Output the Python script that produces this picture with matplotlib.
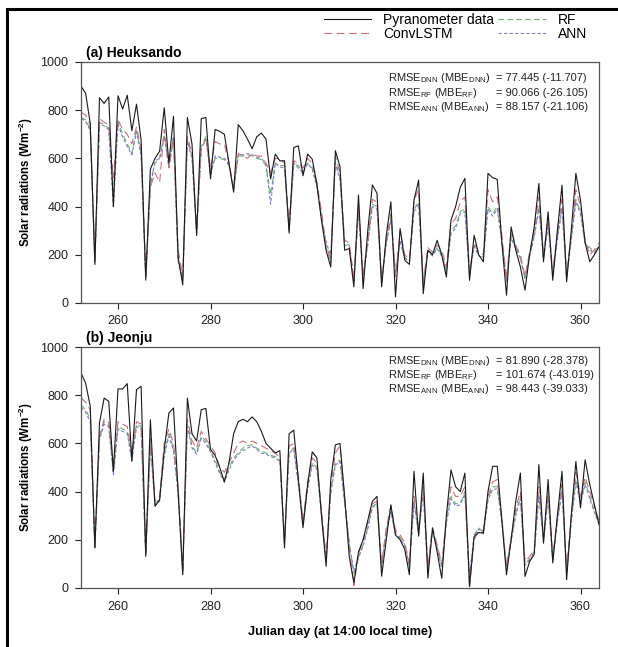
import matplotlib
matplotlib.use("Agg")
import matplotlib.pyplot as plt
from matplotlib.patches import Rectangle

plt.rcParams['font.family'] = ['Liberation Sans', 'DejaVu Sans']
plt.rcParams['mathtext.fontset'] = 'custom'
plt.rcParams['mathtext.rm'] = 'Liberation Sans'
plt.rcParams['mathtext.bf'] = 'Liberation Sans:bold'
plt.rcParams['mathtext.it'] = 'Liberation Sans:italic'

days = list(range(252, 365))

# ---------------- (a) Heuksando ----------------
heuk_obs = [900, 870, 745, 160, 852, 828, 855, 400, 860, 805, 862, 715, 825, 675, 95, 555,
            600, 630, 810, 580, 775, 190, 75, 770, 660, 280, 765, 770, 515, 720, 712, 700,
            580, 460, 740, 715, 680, 640, 690, 705, 680, 515, 618, 590, 590, 290, 645, 652,
            528, 618, 597, 494, 342, 218, 149, 632, 566, 219, 226, 67, 448, 60, 300, 490,
            455, 67, 280, 420, 25, 309, 178, 160, 427, 510, 39, 219, 200, 260, 200, 108,
            344, 400, 480, 517, 94, 281, 200, 171, 538, 520, 513, 250, 32, 316, 220, 150,
            53, 200, 316, 496, 171, 378, 94, 300, 489, 88, 300, 538, 427, 250, 171, 200, 233]
heuk_conv = [790, 780, 740, 180, 765, 750, 740, 520, 760, 720, 700, 660, 730, 640, 120, 480,
             540, 500, 720, 560, 680, 220, 110, 690, 620, 310, 640, 680, 560, 670, 660, 660,
             580, 480, 620, 610, 600, 620, 610, 610, 580, 540, 600, 600, 580, 330, 590, 580,
             560, 600, 580, 500, 380, 240, 180, 610, 540, 260, 250, 100, 400, 120, 260, 430,
             420, 100, 260, 370, 110, 300, 200, 180, 430, 470, 90, 230, 210, 240, 220, 150,
             330, 350, 420, 440, 130, 250, 210, 200, 470, 420, 440, 280, 100, 300, 240, 200,
             110, 210, 300, 440, 200, 350, 130, 290, 430, 120, 280, 470, 400, 260, 200, 220, 250]
heuk_rf = [770, 760, 720, 175, 750, 740, 725, 450, 755, 700, 660, 620, 720, 620, 110, 500,
           580, 600, 700, 570, 690, 180, 100, 680, 610, 300, 650, 690, 540, 600, 600, 595,
           570, 470, 610, 610, 615, 610, 600, 595, 570, 450, 580, 570, 570, 310, 575, 570,
           540, 580, 560, 490, 360, 230, 170, 590, 520, 250, 240, 95, 390, 110, 250, 410,
           400, 90, 250, 350, 130, 250, 190, 170, 390, 420, 80, 220, 200, 230, 200, 140,
           300, 320, 380, 390, 120, 240, 200, 190, 400, 370, 400, 260, 90, 280, 230, 190,
           100, 200, 280, 400, 190, 330, 120, 270, 400, 110, 270, 430, 380, 250, 230, 210, 240]
heuk_ann = [765, 755, 715, 170, 745, 735, 720, 400, 740, 690, 650, 615, 710, 610, 105, 480,
            590, 600, 690, 565, 690, 170, 95, 670, 600, 290, 640, 680, 530, 610, 605, 600,
            575, 470, 615, 615, 620, 615, 605, 600, 575, 410, 580, 565, 560, 300, 580, 560,
            540, 580, 555, 480, 350, 250, 200, 580, 510, 240, 235, 90, 380, 100, 240, 400,
            390, 85, 245, 345, 120, 260, 185, 175, 380, 410, 75, 215, 195, 225, 195, 130,
            290, 310, 370, 380, 115, 235, 195, 185, 390, 360, 390, 255, 95, 270, 225, 185,
            105, 195, 275, 390, 185, 320, 115, 265, 390, 105, 260, 420, 370, 245, 220, 205, 235]

# ---------------- (b) Jeonju ----------------
jeon_obs = [892, 850, 754, 166, 685, 788, 775, 484, 826, 826, 848, 526, 823, 837, 131, 698,
            339, 366, 574, 726, 747, 400, 55, 788, 640, 610, 740, 745, 575, 550, 500, 440,
            520, 640, 690, 700, 690, 710, 690, 650, 600, 580, 560, 570, 166, 640, 655, 450,
            250, 430, 565, 540, 300, 90, 450, 594, 600, 380, 130, 21, 150, 200, 280, 360,
            380, 49, 200, 345, 220, 200, 160, 55, 484, 215, 477, 41, 249, 150, 40, 300,
            490, 420, 400, 477, 7, 214, 230, 228, 400, 505, 505, 280, 55, 200, 360, 477,
            48, 110, 140, 512, 186, 450, 104, 300, 484, 34, 300, 525, 332, 532, 430, 346, 263]
jeon_conv = [790, 770, 740, 180, 630, 700, 690, 500, 690, 680, 670, 560, 690, 680, 150, 620,
             360, 380, 600, 660, 600, 420, 80, 700, 610, 580, 650, 620, 590, 560, 500, 480,
             520, 560, 600, 610, 600, 610, 600, 590, 580, 570, 560, 540, 200, 590, 600, 460,
             280, 440, 540, 520, 320, 130, 420, 560, 590, 380, 170, 10, 140, 200, 270, 350,
             360, 100, 250, 340, 240, 220, 190, 100, 380, 240, 420, 90, 250, 180, 100, 290,
             420, 380, 380, 420, 0, 200, 240, 240, 380, 440, 450, 290, 90, 210, 330, 400,
             110, 130, 160, 420, 210, 400, 130, 290, 430, 80, 300, 480, 380, 460, 400, 340, 280]
jeon_rf = [760, 740, 700, 170, 620, 690, 680, 480, 670, 660, 650, 540, 680, 670, 140, 600,
           350, 370, 560, 640, 580, 400, 70, 680, 590, 560, 630, 610, 570, 530, 480, 450,
           500, 540, 560, 580, 590, 595, 580, 570, 560, 550, 545, 530, 190, 570, 580, 440,
           270, 420, 520, 500, 310, 120, 400, 520, 530, 360, 190, 60, 130, 180, 250, 340,
           350, 90, 240, 320, 230, 210, 180, 90, 360, 230, 400, 80, 240, 170, 90, 280,
           380, 350, 350, 400, 40, 220, 250, 230, 370, 420, 420, 280, 80, 200, 310, 380,
           100, 120, 150, 390, 200, 380, 120, 280, 410, 70, 280, 450, 360, 440, 380, 320, 270]
jeon_ann = [750, 730, 690, 165, 615, 680, 670, 470, 660, 650, 640, 530, 670, 660, 135, 590,
            345, 360, 550, 630, 570, 390, 65, 670, 580, 555, 620, 600, 565, 520, 475, 440,
            490, 530, 555, 570, 580, 590, 575, 560, 555, 545, 540, 525, 185, 560, 575, 430,
            265, 410, 510, 495, 300, 115, 395, 510, 525, 355, 180, 70, 125, 175, 245, 335,
            345, 85, 235, 315, 225, 205, 175, 85, 350, 225, 390, 75, 235, 165, 85, 270,
            370, 340, 345, 390, 50, 215, 245, 225, 365, 410, 410, 275, 75, 195, 300, 370,
            95, 115, 145, 380, 195, 370, 115, 275, 400, 65, 275, 440, 350, 430, 370, 315, 265]

stats_a = [("DNN", "= 77.445 (-11.707)"),
           ("RF", "= 90.066 (-26.105)"),
           ("ANN", "= 88.157 (-21.106)")]
stats_b = [("DNN", "= 81.890 (-28.378)"),
           ("RF", "= 101.674 (-43.019)"),
           ("ANN", "= 98.443 (-39.033)")]

series_names = ["Pyranometer data", "ConvLSTM", "RF", "ANN"]
xticks = [260, 280, 300, 320, 340, 360]
yticks = [0, 200, 400, 600, 800, 1000]

W, H = 618, 647
fig = plt.figure(figsize=(W / 100, H / 100), dpi=100)

c_obs = '#1a1a1a'
c_conv = '#c8707a'
c_rf = '#6db36d'
c_ann = '#7b7bd0'

def make_panel(rect, obs, conv, rf, ann, title, stats, row_y, show_xlabel):
    ax = fig.add_axes(rect)
    l_rf, = ax.plot(days, rf, color=c_rf, lw=0.8, dashes=(5, 3))
    l_ann, = ax.plot(days, ann, color=c_ann, lw=0.8, dashes=(3, 2))
    l_conv, = ax.plot(days, conv, color=c_conv, lw=0.8, dashes=(7, 4))
    l_obs, = ax.plot(days, obs, color=c_obs, lw=0.8)
    ax.set_xlim(252, 364)
    ax.set_ylim(0, 1000)
    ax.set_xticks(xticks)
    ax.set_yticks(yticks)
    ax.tick_params(direction='out', length=4, width=0.8, labelsize=9, colors='#222222')
    ax.tick_params(axis='y', pad=5)
    ax.tick_params(axis='x', pad=5)
    for s in ax.spines.values():
        s.set_color('#555555')
        s.set_linewidth(0.9)
    ax.set_ylabel(r"Solar radiations (Wm$\mathbf{^{-2}}$)", fontsize=8.3, fontweight='bold',
                  labelpad=4)
    ax.text(0.01, 1.008, title, transform=ax.transAxes, fontsize=10, fontweight='bold',
            ha='left', va='bottom')
    for i, (m, val) in enumerate(stats):
        y = row_y[i]
        ax.text(0.593, y, r"RMSE$_{\mathrm{%s}}$ (MBE$_{\mathrm{%s}}$)" % (m, m),
                transform=ax.transAxes, fontsize=8, ha='left', va='center', color='#222222')
        ax.text(0.802, y, val, transform=ax.transAxes, fontsize=8, ha='left', va='center',
                color='#222222')
    if show_xlabel:
        ax.set_xlabel("Julian day (at 14:00 local time)", fontsize=9.2, fontweight='bold',
                      labelpad=10)
    return ax, [l_obs, l_conv, l_rf, l_ann]

left = 81 / W
width = (599 - 81) / W
ax1, handles = make_panel([left, 1 - 303 / H, width, (303 - 62) / H],
                          heuk_obs, heuk_conv, heuk_rf, heuk_ann, "(a) Heuksando", stats_a,
                          [0.932, 0.873, 0.814], False)
ax2, _ = make_panel([left, 1 - 588 / H, width, (588 - 347) / H],
                    jeon_obs, jeon_conv, jeon_rf, jeon_ann, "(b) Jeonju", stats_b,
                    [0.940, 0.883, 0.826], True)

fig.legend(handles, series_names, ncol=2, loc='upper left', bbox_to_anchor=(318 / W, 1 - 7 / H),
           frameon=False, fontsize=10, handlelength=3.45, columnspacing=0.3, handletextpad=0.85,
           labelspacing=0.05, borderaxespad=0)

# outer frame
fig.patches.append(Rectangle((7 / W, -0.05), 1.2, 1 - 9 / H + 0.05, transform=fig.transFigure,
                             fill=False, edgecolor='black', linewidth=2.2, zorder=10))

fig.savefig("out.png", dpi=100)
